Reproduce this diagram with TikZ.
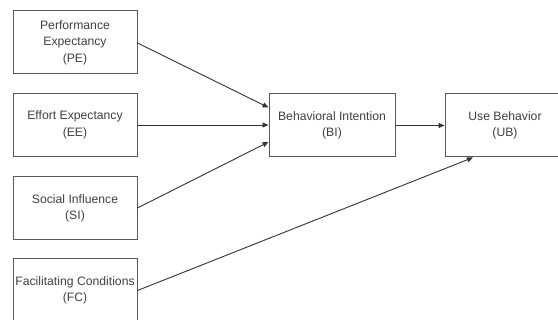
\documentclass[tikz,border=0pt]{standalone}
\usepackage{fontspec}
\setmainfont{Liberation Sans}
\usetikzlibrary{arrows.meta}
\begin{document}
\begin{tikzpicture}[x=1pt,y=-1pt,
  box/.style={draw=black!65,line width=1pt,fill=white,align=center,
    text=black!75,font=\fontsize{12.2}{16.5}\selectfont,
    minimum width=124pt,minimum height=63pt,inner sep=0pt},
  conn/.style={draw=black!80,line width=0.9pt,-{Triangle[length=6pt,width=5pt]}}]
\useasboundingbox (0,0) rectangle (558,320);
\clip (0,0) rectangle (558,320);
\fill[white] (0,0) rectangle (558,320);
\node[box] (pe) at (75,42.5) {Performance\\Expectancy\\(PE)};
\node[box] (ee) at (75,125) {Effort Expectancy\\(EE)};
\node[box] (si) at (75,208.5) {Social Influence\\(SI)};
\node[box] (fc) at (75,290.5) {Facilitating Conditions\\(FC)};
\node[box,minimum width=126pt] (bi) at (332,125.5) {Behavioral Intention\\(BI)};
\node[box,minimum width=120pt] (ub) at (505,125.5) {Use Behavior\\(UB)};
\draw[conn] ([yshift=-0.5pt]pe.east) -- ([yshift=18pt]bi.west);
\draw[conn] (ee.east) -- ([yshift=0.5pt]bi.west);
\draw[conn] ([yshift=0.5pt]si.east) -- ([yshift=-16.5pt]bi.west);
\draw[conn] (bi.east) -- (ub.west);
\draw[conn] (fc.east) -- ([xshift=-32pt]ub.south);
\end{tikzpicture}
\end{document}
